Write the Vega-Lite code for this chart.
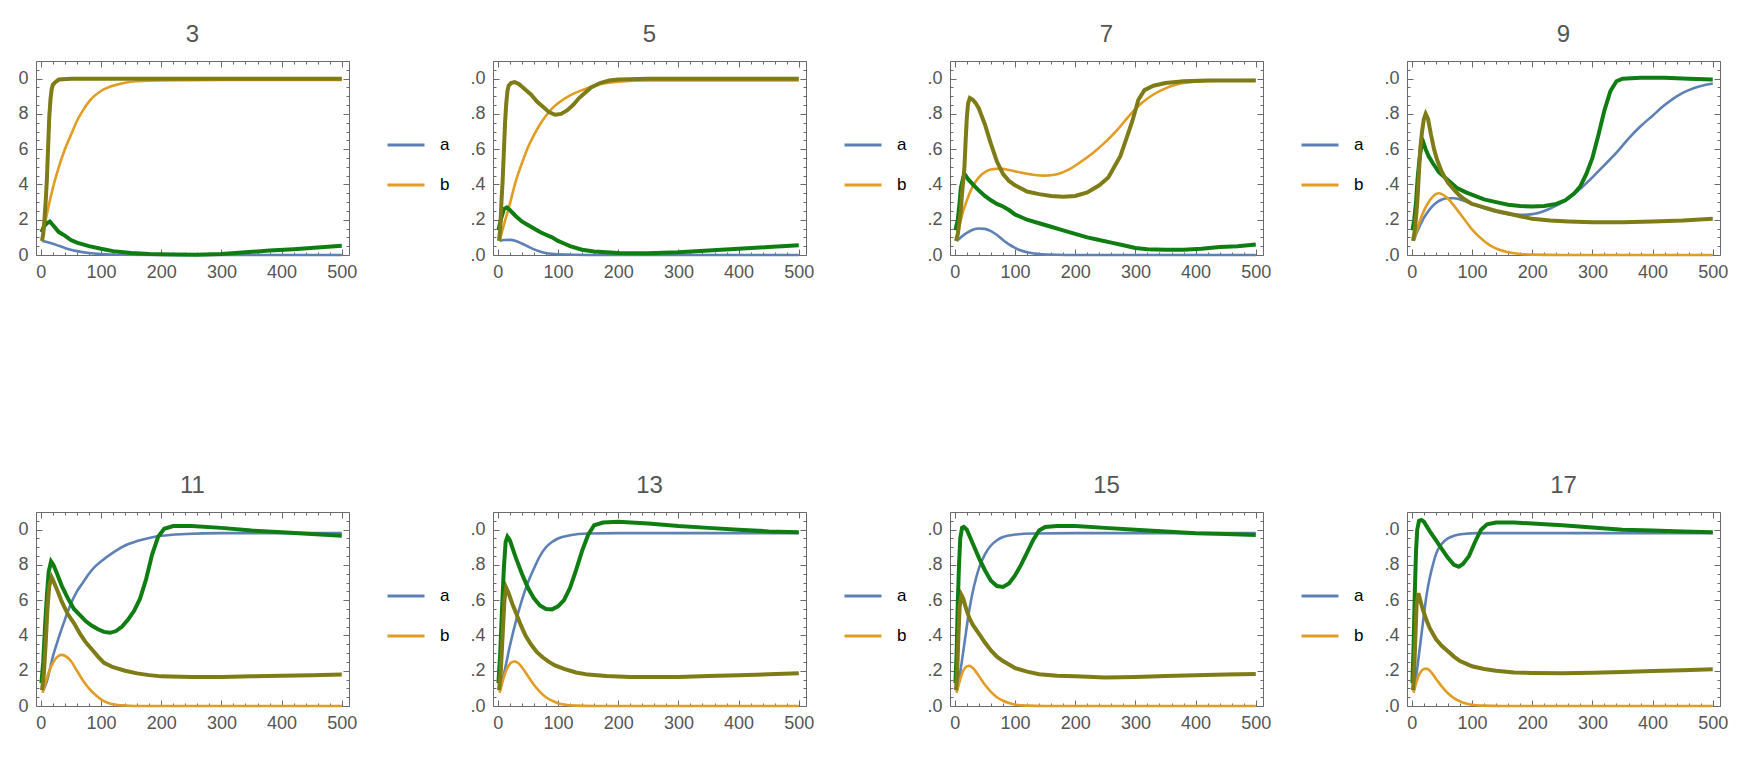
{
  "$schema": "https://vega.github.io/schema/vega-lite/v6.json",
  "background": "white",
  "padding": {"left": 17, "top": 22, "right": 5, "bottom": 5},
  "datasets": {
    "runs": [
      {"p":3,"s":"a","t":2,"v":0.08},{"p":3,"s":"a","t":10,"v":0.074},{"p":3,"s":"a","t":20,"v":0.064},{"p":3,"s":"a","t":30,"v":0.052},{"p":3,"s":"a","t":40,"v":0.04},{"p":3,"s":"a","t":50,"v":0.03},{"p":3,"s":"a","t":60,"v":0.022},{"p":3,"s":"a","t":80,"v":0.011},{"p":3,"s":"a","t":100,"v":0.005},{"p":3,"s":"a","t":130,"v":0.001},{"p":3,"s":"a","t":200,"v":0},{"p":3,"s":"a","t":350,"v":0},{"p":3,"s":"a","t":500,"v":0},
      {"p":3,"s":"b","t":2,"v":0.08},{"p":3,"s":"b","t":10,"v":0.23},{"p":3,"s":"b","t":20,"v":0.38},{"p":3,"s":"b","t":30,"v":0.5},{"p":3,"s":"b","t":40,"v":0.6},{"p":3,"s":"b","t":50,"v":0.68},{"p":3,"s":"b","t":60,"v":0.76},{"p":3,"s":"b","t":70,"v":0.82},{"p":3,"s":"b","t":80,"v":0.87},{"p":3,"s":"b","t":90,"v":0.905},{"p":3,"s":"b","t":100,"v":0.93},{"p":3,"s":"b","t":120,"v":0.96},{"p":3,"s":"b","t":140,"v":0.977},{"p":3,"s":"b","t":160,"v":0.985},{"p":3,"s":"b","t":200,"v":0.99},{"p":3,"s":"b","t":300,"v":0.992},{"p":3,"s":"b","t":500,"v":0.992},
      {"p":3,"s":"sa","t":1,"v":0.13},{"p":3,"s":"sa","t":5,"v":0.16},{"p":3,"s":"sa","t":10,"v":0.18},{"p":3,"s":"sa","t":15,"v":0.19},{"p":3,"s":"sa","t":20,"v":0.17},{"p":3,"s":"sa","t":30,"v":0.13},{"p":3,"s":"sa","t":40,"v":0.11},{"p":3,"s":"sa","t":50,"v":0.085},{"p":3,"s":"sa","t":60,"v":0.07},{"p":3,"s":"sa","t":80,"v":0.05},{"p":3,"s":"sa","t":100,"v":0.035},{"p":3,"s":"sa","t":120,"v":0.022},{"p":3,"s":"sa","t":150,"v":0.012},{"p":3,"s":"sa","t":180,"v":0.006},{"p":3,"s":"sa","t":220,"v":0.003},{"p":3,"s":"sa","t":260,"v":0.002},{"p":3,"s":"sa","t":300,"v":0.006},{"p":3,"s":"sa","t":340,"v":0.015},{"p":3,"s":"sa","t":380,"v":0.025},{"p":3,"s":"sa","t":420,"v":0.033},{"p":3,"s":"sa","t":460,"v":0.042},{"p":3,"s":"sa","t":500,"v":0.052},
      {"p":3,"s":"sb","t":2,"v":0.08},{"p":3,"s":"sb","t":4,"v":0.12},{"p":3,"s":"sb","t":6,"v":0.2},{"p":3,"s":"sb","t":8,"v":0.3},{"p":3,"s":"sb","t":10,"v":0.42},{"p":3,"s":"sb","t":12,"v":0.6},{"p":3,"s":"sb","t":14,"v":0.78},{"p":3,"s":"sb","t":16,"v":0.88},{"p":3,"s":"sb","t":18,"v":0.94},{"p":3,"s":"sb","t":20,"v":0.965},{"p":3,"s":"sb","t":24,"v":0.98},{"p":3,"s":"sb","t":30,"v":0.995},{"p":3,"s":"sb","t":50,"v":1.0},{"p":3,"s":"sb","t":150,"v":1.0},{"p":3,"s":"sb","t":300,"v":1.0},{"p":3,"s":"sb","t":500,"v":1.0},

      {"p":5,"s":"a","t":3,"v":0.08},{"p":5,"s":"a","t":10,"v":0.085},{"p":5,"s":"a","t":20,"v":0.086},{"p":5,"s":"a","t":30,"v":0.08},{"p":5,"s":"a","t":40,"v":0.065},{"p":5,"s":"a","t":50,"v":0.048},{"p":5,"s":"a","t":60,"v":0.032},{"p":5,"s":"a","t":70,"v":0.02},{"p":5,"s":"a","t":80,"v":0.011},{"p":5,"s":"a","t":100,"v":0.004},{"p":5,"s":"a","t":150,"v":0},{"p":5,"s":"a","t":500,"v":0},
      {"p":5,"s":"b","t":3,"v":0.08},{"p":5,"s":"b","t":10,"v":0.17},{"p":5,"s":"b","t":20,"v":0.29},{"p":5,"s":"b","t":30,"v":0.42},{"p":5,"s":"b","t":40,"v":0.52},{"p":5,"s":"b","t":50,"v":0.61},{"p":5,"s":"b","t":60,"v":0.68},{"p":5,"s":"b","t":70,"v":0.74},{"p":5,"s":"b","t":80,"v":0.79},{"p":5,"s":"b","t":90,"v":0.83},{"p":5,"s":"b","t":100,"v":0.86},{"p":5,"s":"b","t":120,"v":0.905},{"p":5,"s":"b","t":140,"v":0.935},{"p":5,"s":"b","t":160,"v":0.96},{"p":5,"s":"b","t":180,"v":0.975},{"p":5,"s":"b","t":200,"v":0.983},{"p":5,"s":"b","t":250,"v":0.99},{"p":5,"s":"b","t":500,"v":0.99},
      {"p":5,"s":"sa","t":1,"v":0.14},{"p":5,"s":"sa","t":5,"v":0.2},{"p":5,"s":"sa","t":10,"v":0.26},{"p":5,"s":"sa","t":15,"v":0.27},{"p":5,"s":"sa","t":20,"v":0.255},{"p":5,"s":"sa","t":30,"v":0.22},{"p":5,"s":"sa","t":40,"v":0.19},{"p":5,"s":"sa","t":50,"v":0.17},{"p":5,"s":"sa","t":60,"v":0.15},{"p":5,"s":"sa","t":70,"v":0.13},{"p":5,"s":"sa","t":80,"v":0.115},{"p":5,"s":"sa","t":90,"v":0.1},{"p":5,"s":"sa","t":100,"v":0.08},{"p":5,"s":"sa","t":110,"v":0.065},{"p":5,"s":"sa","t":120,"v":0.05},{"p":5,"s":"sa","t":140,"v":0.03},{"p":5,"s":"sa","t":160,"v":0.02},{"p":5,"s":"sa","t":200,"v":0.012},{"p":5,"s":"sa","t":250,"v":0.01},{"p":5,"s":"sa","t":300,"v":0.015},{"p":5,"s":"sa","t":350,"v":0.025},{"p":5,"s":"sa","t":400,"v":0.035},{"p":5,"s":"sa","t":450,"v":0.045},{"p":5,"s":"sa","t":500,"v":0.055},
      {"p":5,"s":"sb","t":2,"v":0.08},{"p":5,"s":"sb","t":4,"v":0.15},{"p":5,"s":"sb","t":6,"v":0.3},{"p":5,"s":"sb","t":8,"v":0.42},{"p":5,"s":"sb","t":10,"v":0.58},{"p":5,"s":"sb","t":12,"v":0.75},{"p":5,"s":"sb","t":14,"v":0.86},{"p":5,"s":"sb","t":16,"v":0.93},{"p":5,"s":"sb","t":18,"v":0.96},{"p":5,"s":"sb","t":22,"v":0.975},{"p":5,"s":"sb","t":28,"v":0.98},{"p":5,"s":"sb","t":35,"v":0.97},{"p":5,"s":"sb","t":45,"v":0.94},{"p":5,"s":"sb","t":55,"v":0.91},{"p":5,"s":"sb","t":65,"v":0.87},{"p":5,"s":"sb","t":75,"v":0.84},{"p":5,"s":"sb","t":85,"v":0.81},{"p":5,"s":"sb","t":95,"v":0.795},{"p":5,"s":"sb","t":105,"v":0.8},{"p":5,"s":"sb","t":115,"v":0.82},{"p":5,"s":"sb","t":125,"v":0.85},{"p":5,"s":"sb","t":135,"v":0.89},{"p":5,"s":"sb","t":145,"v":0.92},{"p":5,"s":"sb","t":155,"v":0.95},{"p":5,"s":"sb","t":170,"v":0.975},{"p":5,"s":"sb","t":185,"v":0.99},{"p":5,"s":"sb","t":200,"v":0.995},{"p":5,"s":"sb","t":250,"v":1.0},{"p":5,"s":"sb","t":500,"v":1.0},

      {"p":7,"s":"a","t":3,"v":0.08},{"p":7,"s":"a","t":10,"v":0.1},{"p":7,"s":"a","t":20,"v":0.125},{"p":7,"s":"a","t":30,"v":0.143},{"p":7,"s":"a","t":40,"v":0.15},{"p":7,"s":"a","t":50,"v":0.148},{"p":7,"s":"a","t":60,"v":0.135},{"p":7,"s":"a","t":70,"v":0.113},{"p":7,"s":"a","t":80,"v":0.085},{"p":7,"s":"a","t":90,"v":0.06},{"p":7,"s":"a","t":100,"v":0.04},{"p":7,"s":"a","t":110,"v":0.025},{"p":7,"s":"a","t":120,"v":0.015},{"p":7,"s":"a","t":140,"v":0.005},{"p":7,"s":"a","t":170,"v":0.001},{"p":7,"s":"a","t":200,"v":0},{"p":7,"s":"a","t":500,"v":0},
      {"p":7,"s":"b","t":3,"v":0.08},{"p":7,"s":"b","t":10,"v":0.2},{"p":7,"s":"b","t":20,"v":0.31},{"p":7,"s":"b","t":30,"v":0.39},{"p":7,"s":"b","t":40,"v":0.44},{"p":7,"s":"b","t":50,"v":0.47},{"p":7,"s":"b","t":60,"v":0.485},{"p":7,"s":"b","t":75,"v":0.49},{"p":7,"s":"b","t":90,"v":0.482},{"p":7,"s":"b","t":110,"v":0.467},{"p":7,"s":"b","t":130,"v":0.455},{"p":7,"s":"b","t":150,"v":0.45},{"p":7,"s":"b","t":170,"v":0.458},{"p":7,"s":"b","t":190,"v":0.485},{"p":7,"s":"b","t":210,"v":0.53},{"p":7,"s":"b","t":230,"v":0.58},{"p":7,"s":"b","t":250,"v":0.64},{"p":7,"s":"b","t":270,"v":0.71},{"p":7,"s":"b","t":290,"v":0.79},{"p":7,"s":"b","t":310,"v":0.86},{"p":7,"s":"b","t":330,"v":0.91},{"p":7,"s":"b","t":350,"v":0.945},{"p":7,"s":"b","t":370,"v":0.968},{"p":7,"s":"b","t":400,"v":0.982},{"p":7,"s":"b","t":450,"v":0.99},{"p":7,"s":"b","t":500,"v":0.992},
      {"p":7,"s":"sa","t":1,"v":0.14},{"p":7,"s":"sa","t":5,"v":0.2},{"p":7,"s":"sa","t":8,"v":0.3},{"p":7,"s":"sa","t":10,"v":0.38},{"p":7,"s":"sa","t":14,"v":0.44},{"p":7,"s":"sa","t":18,"v":0.45},{"p":7,"s":"sa","t":22,"v":0.43},{"p":7,"s":"sa","t":30,"v":0.4},{"p":7,"s":"sa","t":40,"v":0.365},{"p":7,"s":"sa","t":50,"v":0.335},{"p":7,"s":"sa","t":60,"v":0.31},{"p":7,"s":"sa","t":70,"v":0.29},{"p":7,"s":"sa","t":80,"v":0.275},{"p":7,"s":"sa","t":90,"v":0.255},{"p":7,"s":"sa","t":100,"v":0.23},{"p":7,"s":"sa","t":120,"v":0.2},{"p":7,"s":"sa","t":140,"v":0.18},{"p":7,"s":"sa","t":160,"v":0.16},{"p":7,"s":"sa","t":180,"v":0.14},{"p":7,"s":"sa","t":200,"v":0.12},{"p":7,"s":"sa","t":220,"v":0.1},{"p":7,"s":"sa","t":240,"v":0.085},{"p":7,"s":"sa","t":260,"v":0.07},{"p":7,"s":"sa","t":280,"v":0.055},{"p":7,"s":"sa","t":300,"v":0.04},{"p":7,"s":"sa","t":320,"v":0.032},{"p":7,"s":"sa","t":350,"v":0.03},{"p":7,"s":"sa","t":380,"v":0.03},{"p":7,"s":"sa","t":410,"v":0.035},{"p":7,"s":"sa","t":440,"v":0.045},{"p":7,"s":"sa","t":470,"v":0.05},{"p":7,"s":"sa","t":500,"v":0.06},
      {"p":7,"s":"sb","t":2,"v":0.08},{"p":7,"s":"sb","t":5,"v":0.12},{"p":7,"s":"sb","t":8,"v":0.2},{"p":7,"s":"sb","t":10,"v":0.25},{"p":7,"s":"sb","t":12,"v":0.35},{"p":7,"s":"sb","t":14,"v":0.42},{"p":7,"s":"sb","t":16,"v":0.5},{"p":7,"s":"sb","t":18,"v":0.65},{"p":7,"s":"sb","t":20,"v":0.78},{"p":7,"s":"sb","t":22,"v":0.86},{"p":7,"s":"sb","t":25,"v":0.89},{"p":7,"s":"sb","t":30,"v":0.88},{"p":7,"s":"sb","t":35,"v":0.86},{"p":7,"s":"sb","t":40,"v":0.83},{"p":7,"s":"sb","t":50,"v":0.74},{"p":7,"s":"sb","t":60,"v":0.63},{"p":7,"s":"sb","t":70,"v":0.53},{"p":7,"s":"sb","t":80,"v":0.46},{"p":7,"s":"sb","t":90,"v":0.42},{"p":7,"s":"sb","t":100,"v":0.395},{"p":7,"s":"sb","t":120,"v":0.36},{"p":7,"s":"sb","t":140,"v":0.345},{"p":7,"s":"sb","t":160,"v":0.335},{"p":7,"s":"sb","t":180,"v":0.33},{"p":7,"s":"sb","t":200,"v":0.335},{"p":7,"s":"sb","t":220,"v":0.355},{"p":7,"s":"sb","t":240,"v":0.395},{"p":7,"s":"sb","t":255,"v":0.44},{"p":7,"s":"sb","t":265,"v":0.5},{"p":7,"s":"sb","t":275,"v":0.56},{"p":7,"s":"sb","t":285,"v":0.66},{"p":7,"s":"sb","t":295,"v":0.76},{"p":7,"s":"sb","t":305,"v":0.88},{"p":7,"s":"sb","t":315,"v":0.935},{"p":7,"s":"sb","t":330,"v":0.96},{"p":7,"s":"sb","t":350,"v":0.975},{"p":7,"s":"sb","t":380,"v":0.985},{"p":7,"s":"sb","t":420,"v":0.99},{"p":7,"s":"sb","t":500,"v":0.99},

      {"p":9,"s":"a","t":3,"v":0.08},{"p":9,"s":"a","t":10,"v":0.14},{"p":9,"s":"a","t":20,"v":0.21},{"p":9,"s":"a","t":30,"v":0.26},{"p":9,"s":"a","t":40,"v":0.295},{"p":9,"s":"a","t":50,"v":0.315},{"p":9,"s":"a","t":60,"v":0.322},{"p":9,"s":"a","t":70,"v":0.322},{"p":9,"s":"a","t":80,"v":0.315},{"p":9,"s":"a","t":100,"v":0.29},{"p":9,"s":"a","t":120,"v":0.265},{"p":9,"s":"a","t":140,"v":0.245},{"p":9,"s":"a","t":160,"v":0.232},{"p":9,"s":"a","t":180,"v":0.228},{"p":9,"s":"a","t":200,"v":0.232},{"p":9,"s":"a","t":220,"v":0.25},{"p":9,"s":"a","t":240,"v":0.28},{"p":9,"s":"a","t":260,"v":0.32},{"p":9,"s":"a","t":280,"v":0.375},{"p":9,"s":"a","t":300,"v":0.44},{"p":9,"s":"a","t":320,"v":0.51},{"p":9,"s":"a","t":340,"v":0.58},{"p":9,"s":"a","t":360,"v":0.66},{"p":9,"s":"a","t":380,"v":0.73},{"p":9,"s":"a","t":400,"v":0.79},{"p":9,"s":"a","t":420,"v":0.85},{"p":9,"s":"a","t":440,"v":0.9},{"p":9,"s":"a","t":460,"v":0.935},{"p":9,"s":"a","t":480,"v":0.958},{"p":9,"s":"a","t":500,"v":0.972},
      {"p":9,"s":"b","t":3,"v":0.08},{"p":9,"s":"b","t":10,"v":0.16},{"p":9,"s":"b","t":20,"v":0.25},{"p":9,"s":"b","t":30,"v":0.31},{"p":9,"s":"b","t":40,"v":0.345},{"p":9,"s":"b","t":45,"v":0.35},{"p":9,"s":"b","t":50,"v":0.345},{"p":9,"s":"b","t":60,"v":0.32},{"p":9,"s":"b","t":70,"v":0.28},{"p":9,"s":"b","t":80,"v":0.235},{"p":9,"s":"b","t":90,"v":0.19},{"p":9,"s":"b","t":100,"v":0.145},{"p":9,"s":"b","t":110,"v":0.11},{"p":9,"s":"b","t":120,"v":0.08},{"p":9,"s":"b","t":130,"v":0.055},{"p":9,"s":"b","t":140,"v":0.037},{"p":9,"s":"b","t":160,"v":0.015},{"p":9,"s":"b","t":180,"v":0.006},{"p":9,"s":"b","t":200,"v":0.002},{"p":9,"s":"b","t":250,"v":0},{"p":9,"s":"b","t":500,"v":0},
      {"p":9,"s":"sa","t":1,"v":0.14},{"p":9,"s":"sa","t":4,"v":0.2},{"p":9,"s":"sa","t":7,"v":0.3},{"p":9,"s":"sa","t":10,"v":0.45},{"p":9,"s":"sa","t":13,"v":0.55},{"p":9,"s":"sa","t":16,"v":0.62},{"p":9,"s":"sa","t":19,"v":0.64},{"p":9,"s":"sa","t":23,"v":0.6},{"p":9,"s":"sa","t":28,"v":0.56},{"p":9,"s":"sa","t":35,"v":0.52},{"p":9,"s":"sa","t":45,"v":0.47},{"p":9,"s":"sa","t":55,"v":0.44},{"p":9,"s":"sa","t":65,"v":0.41},{"p":9,"s":"sa","t":75,"v":0.38},{"p":9,"s":"sa","t":90,"v":0.355},{"p":9,"s":"sa","t":105,"v":0.335},{"p":9,"s":"sa","t":120,"v":0.315},{"p":9,"s":"sa","t":140,"v":0.3},{"p":9,"s":"sa","t":160,"v":0.285},{"p":9,"s":"sa","t":180,"v":0.278},{"p":9,"s":"sa","t":200,"v":0.275},{"p":9,"s":"sa","t":220,"v":0.278},{"p":9,"s":"sa","t":240,"v":0.29},{"p":9,"s":"sa","t":255,"v":0.31},{"p":9,"s":"sa","t":270,"v":0.35},{"p":9,"s":"sa","t":280,"v":0.39},{"p":9,"s":"sa","t":290,"v":0.46},{"p":9,"s":"sa","t":300,"v":0.55},{"p":9,"s":"sa","t":310,"v":0.68},{"p":9,"s":"sa","t":320,"v":0.82},{"p":9,"s":"sa","t":330,"v":0.93},{"p":9,"s":"sa","t":340,"v":0.985},{"p":9,"s":"sa","t":350,"v":1.0},{"p":9,"s":"sa","t":380,"v":1.005},{"p":9,"s":"sa","t":420,"v":1.005},{"p":9,"s":"sa","t":460,"v":1.0},{"p":9,"s":"sa","t":500,"v":0.995},
      {"p":9,"s":"sb","t":2,"v":0.08},{"p":9,"s":"sb","t":5,"v":0.14},{"p":9,"s":"sb","t":8,"v":0.25},{"p":9,"s":"sb","t":10,"v":0.35},{"p":9,"s":"sb","t":12,"v":0.48},{"p":9,"s":"sb","t":14,"v":0.6},{"p":9,"s":"sb","t":17,"v":0.7},{"p":9,"s":"sb","t":20,"v":0.77},{"p":9,"s":"sb","t":23,"v":0.8},{"p":9,"s":"sb","t":27,"v":0.77},{"p":9,"s":"sb","t":32,"v":0.68},{"p":9,"s":"sb","t":37,"v":0.6},{"p":9,"s":"sb","t":42,"v":0.54},{"p":9,"s":"sb","t":50,"v":0.47},{"p":9,"s":"sb","t":60,"v":0.41},{"p":9,"s":"sb","t":70,"v":0.37},{"p":9,"s":"sb","t":80,"v":0.335},{"p":9,"s":"sb","t":90,"v":0.31},{"p":9,"s":"sb","t":100,"v":0.29},{"p":9,"s":"sb","t":120,"v":0.27},{"p":9,"s":"sb","t":140,"v":0.25},{"p":9,"s":"sb","t":160,"v":0.235},{"p":9,"s":"sb","t":180,"v":0.22},{"p":9,"s":"sb","t":200,"v":0.205},{"p":9,"s":"sb","t":230,"v":0.195},{"p":9,"s":"sb","t":260,"v":0.19},{"p":9,"s":"sb","t":300,"v":0.185},{"p":9,"s":"sb","t":350,"v":0.185},{"p":9,"s":"sb","t":400,"v":0.19},{"p":9,"s":"sb","t":450,"v":0.195},{"p":9,"s":"sb","t":500,"v":0.205},

      {"p":11,"s":"a","t":3,"v":0.08},{"p":11,"s":"a","t":10,"v":0.14},{"p":11,"s":"a","t":20,"v":0.28},{"p":11,"s":"a","t":30,"v":0.39},{"p":11,"s":"a","t":40,"v":0.49},{"p":11,"s":"a","t":50,"v":0.58},{"p":11,"s":"a","t":60,"v":0.65},{"p":11,"s":"a","t":70,"v":0.7},{"p":11,"s":"a","t":80,"v":0.75},{"p":11,"s":"a","t":90,"v":0.79},{"p":11,"s":"a","t":100,"v":0.82},{"p":11,"s":"a","t":120,"v":0.87},{"p":11,"s":"a","t":140,"v":0.91},{"p":11,"s":"a","t":160,"v":0.935},{"p":11,"s":"a","t":180,"v":0.953},{"p":11,"s":"a","t":200,"v":0.965},{"p":11,"s":"a","t":240,"v":0.975},{"p":11,"s":"a","t":300,"v":0.98},{"p":11,"s":"a","t":500,"v":0.98},
      {"p":11,"s":"b","t":3,"v":0.075},{"p":11,"s":"b","t":10,"v":0.16},{"p":11,"s":"b","t":20,"v":0.245},{"p":11,"s":"b","t":30,"v":0.285},{"p":11,"s":"b","t":35,"v":0.29},{"p":11,"s":"b","t":40,"v":0.285},{"p":11,"s":"b","t":50,"v":0.255},{"p":11,"s":"b","t":60,"v":0.2},{"p":11,"s":"b","t":70,"v":0.145},{"p":11,"s":"b","t":80,"v":0.1},{"p":11,"s":"b","t":90,"v":0.065},{"p":11,"s":"b","t":100,"v":0.038},{"p":11,"s":"b","t":110,"v":0.02},{"p":11,"s":"b","t":120,"v":0.01},{"p":11,"s":"b","t":140,"v":0.003},{"p":11,"s":"b","t":170,"v":0},{"p":11,"s":"b","t":500,"v":0},
      {"p":11,"s":"sa","t":1,"v":0.13},{"p":11,"s":"sa","t":4,"v":0.25},{"p":11,"s":"sa","t":7,"v":0.45},{"p":11,"s":"sa","t":10,"v":0.62},{"p":11,"s":"sa","t":13,"v":0.76},{"p":11,"s":"sa","t":17,"v":0.82},{"p":11,"s":"sa","t":21,"v":0.8},{"p":11,"s":"sa","t":27,"v":0.75},{"p":11,"s":"sa","t":35,"v":0.68},{"p":11,"s":"sa","t":45,"v":0.61},{"p":11,"s":"sa","t":55,"v":0.55},{"p":11,"s":"sa","t":65,"v":0.515},{"p":11,"s":"sa","t":75,"v":0.48},{"p":11,"s":"sa","t":85,"v":0.455},{"p":11,"s":"sa","t":95,"v":0.435},{"p":11,"s":"sa","t":105,"v":0.42},{"p":11,"s":"sa","t":115,"v":0.415},{"p":11,"s":"sa","t":125,"v":0.425},{"p":11,"s":"sa","t":135,"v":0.45},{"p":11,"s":"sa","t":145,"v":0.49},{"p":11,"s":"sa","t":155,"v":0.54},{"p":11,"s":"sa","t":165,"v":0.61},{"p":11,"s":"sa","t":175,"v":0.72},{"p":11,"s":"sa","t":185,"v":0.86},{"p":11,"s":"sa","t":195,"v":0.96},{"p":11,"s":"sa","t":205,"v":1.005},{"p":11,"s":"sa","t":220,"v":1.02},{"p":11,"s":"sa","t":250,"v":1.02},{"p":11,"s":"sa","t":300,"v":1.01},{"p":11,"s":"sa","t":350,"v":0.995},{"p":11,"s":"sa","t":400,"v":0.985},{"p":11,"s":"sa","t":450,"v":0.975},{"p":11,"s":"sa","t":500,"v":0.965},
      {"p":11,"s":"sb","t":2,"v":0.09},{"p":11,"s":"sb","t":5,"v":0.18},{"p":11,"s":"sb","t":8,"v":0.35},{"p":11,"s":"sb","t":11,"v":0.55},{"p":11,"s":"sb","t":14,"v":0.68},{"p":11,"s":"sb","t":18,"v":0.73},{"p":11,"s":"sb","t":22,"v":0.7},{"p":11,"s":"sb","t":28,"v":0.65},{"p":11,"s":"sb","t":35,"v":0.59},{"p":11,"s":"sb","t":45,"v":0.52},{"p":11,"s":"sb","t":55,"v":0.47},{"p":11,"s":"sb","t":65,"v":0.41},{"p":11,"s":"sb","t":75,"v":0.36},{"p":11,"s":"sb","t":85,"v":0.32},{"p":11,"s":"sb","t":95,"v":0.28},{"p":11,"s":"sb","t":105,"v":0.245},{"p":11,"s":"sb","t":120,"v":0.22},{"p":11,"s":"sb","t":140,"v":0.2},{"p":11,"s":"sb","t":160,"v":0.185},{"p":11,"s":"sb","t":180,"v":0.175},{"p":11,"s":"sb","t":200,"v":0.168},{"p":11,"s":"sb","t":250,"v":0.165},{"p":11,"s":"sb","t":300,"v":0.165},{"p":11,"s":"sb","t":350,"v":0.168},{"p":11,"s":"sb","t":400,"v":0.172},{"p":11,"s":"sb","t":450,"v":0.175},{"p":11,"s":"sb","t":500,"v":0.178},

      {"p":13,"s":"a","t":3,"v":0.08},{"p":13,"s":"a","t":10,"v":0.18},{"p":13,"s":"a","t":20,"v":0.34},{"p":13,"s":"a","t":30,"v":0.48},{"p":13,"s":"a","t":40,"v":0.6},{"p":13,"s":"a","t":50,"v":0.7},{"p":13,"s":"a","t":60,"v":0.78},{"p":13,"s":"a","t":70,"v":0.85},{"p":13,"s":"a","t":80,"v":0.9},{"p":13,"s":"a","t":90,"v":0.93},{"p":13,"s":"a","t":100,"v":0.95},{"p":13,"s":"a","t":120,"v":0.968},{"p":13,"s":"a","t":150,"v":0.978},{"p":13,"s":"a","t":200,"v":0.98},{"p":13,"s":"a","t":500,"v":0.98},
      {"p":13,"s":"b","t":3,"v":0.075},{"p":13,"s":"b","t":8,"v":0.14},{"p":13,"s":"b","t":15,"v":0.21},{"p":13,"s":"b","t":22,"v":0.245},{"p":13,"s":"b","t":27,"v":0.252},{"p":13,"s":"b","t":33,"v":0.245},{"p":13,"s":"b","t":40,"v":0.22},{"p":13,"s":"b","t":50,"v":0.17},{"p":13,"s":"b","t":60,"v":0.12},{"p":13,"s":"b","t":70,"v":0.08},{"p":13,"s":"b","t":80,"v":0.05},{"p":13,"s":"b","t":90,"v":0.03},{"p":13,"s":"b","t":100,"v":0.016},{"p":13,"s":"b","t":110,"v":0.008},{"p":13,"s":"b","t":130,"v":0.002},{"p":13,"s":"b","t":160,"v":0},{"p":13,"s":"b","t":500,"v":0},
      {"p":13,"s":"sa","t":1,"v":0.13},{"p":13,"s":"sa","t":4,"v":0.3},{"p":13,"s":"sa","t":7,"v":0.55},{"p":13,"s":"sa","t":10,"v":0.78},{"p":13,"s":"sa","t":13,"v":0.93},{"p":13,"s":"sa","t":16,"v":0.96},{"p":13,"s":"sa","t":20,"v":0.94},{"p":13,"s":"sa","t":25,"v":0.89},{"p":13,"s":"sa","t":30,"v":0.84},{"p":13,"s":"sa","t":40,"v":0.75},{"p":13,"s":"sa","t":50,"v":0.67},{"p":13,"s":"sa","t":60,"v":0.61},{"p":13,"s":"sa","t":70,"v":0.57},{"p":13,"s":"sa","t":80,"v":0.55},{"p":13,"s":"sa","t":90,"v":0.548},{"p":13,"s":"sa","t":100,"v":0.565},{"p":13,"s":"sa","t":110,"v":0.6},{"p":13,"s":"sa","t":120,"v":0.67},{"p":13,"s":"sa","t":130,"v":0.77},{"p":13,"s":"sa","t":140,"v":0.88},{"p":13,"s":"sa","t":150,"v":0.97},{"p":13,"s":"sa","t":160,"v":1.025},{"p":13,"s":"sa","t":175,"v":1.04},{"p":13,"s":"sa","t":200,"v":1.045},{"p":13,"s":"sa","t":250,"v":1.035},{"p":13,"s":"sa","t":300,"v":1.02},{"p":13,"s":"sa","t":350,"v":1.01},{"p":13,"s":"sa","t":400,"v":1.0},{"p":13,"s":"sa","t":450,"v":0.99},{"p":13,"s":"sa","t":500,"v":0.985},
      {"p":13,"s":"sb","t":2,"v":0.09},{"p":13,"s":"sb","t":5,"v":0.2},{"p":13,"s":"sb","t":8,"v":0.4},{"p":13,"s":"sb","t":11,"v":0.6},{"p":13,"s":"sb","t":14,"v":0.67},{"p":13,"s":"sb","t":18,"v":0.64},{"p":13,"s":"sb","t":24,"v":0.58},{"p":13,"s":"sb","t":30,"v":0.53},{"p":13,"s":"sb","t":38,"v":0.46},{"p":13,"s":"sb","t":46,"v":0.4},{"p":13,"s":"sb","t":55,"v":0.35},{"p":13,"s":"sb","t":65,"v":0.305},{"p":13,"s":"sb","t":75,"v":0.275},{"p":13,"s":"sb","t":85,"v":0.25},{"p":13,"s":"sb","t":95,"v":0.23},{"p":13,"s":"sb","t":110,"v":0.21},{"p":13,"s":"sb","t":130,"v":0.19},{"p":13,"s":"sb","t":150,"v":0.178},{"p":13,"s":"sb","t":180,"v":0.17},{"p":13,"s":"sb","t":220,"v":0.165},{"p":13,"s":"sb","t":260,"v":0.165},{"p":13,"s":"sb","t":300,"v":0.165},{"p":13,"s":"sb","t":350,"v":0.17},{"p":13,"s":"sb","t":400,"v":0.175},{"p":13,"s":"sb","t":450,"v":0.18},{"p":13,"s":"sb","t":500,"v":0.185},

      {"p":15,"s":"a","t":3,"v":0.08},{"p":15,"s":"a","t":7,"v":0.15},{"p":15,"s":"a","t":12,"v":0.26},{"p":15,"s":"a","t":17,"v":0.38},{"p":15,"s":"a","t":22,"v":0.5},{"p":15,"s":"a","t":27,"v":0.6},{"p":15,"s":"a","t":32,"v":0.68},{"p":15,"s":"a","t":40,"v":0.78},{"p":15,"s":"a","t":50,"v":0.86},{"p":15,"s":"a","t":60,"v":0.91},{"p":15,"s":"a","t":70,"v":0.94},{"p":15,"s":"a","t":80,"v":0.958},{"p":15,"s":"a","t":100,"v":0.972},{"p":15,"s":"a","t":130,"v":0.978},{"p":15,"s":"a","t":200,"v":0.98},{"p":15,"s":"a","t":500,"v":0.98},
      {"p":15,"s":"b","t":3,"v":0.075},{"p":15,"s":"b","t":8,"v":0.14},{"p":15,"s":"b","t":14,"v":0.2},{"p":15,"s":"b","t":20,"v":0.225},{"p":15,"s":"b","t":24,"v":0.228},{"p":15,"s":"b","t":30,"v":0.215},{"p":15,"s":"b","t":40,"v":0.17},{"p":15,"s":"b","t":50,"v":0.12},{"p":15,"s":"b","t":60,"v":0.08},{"p":15,"s":"b","t":70,"v":0.05},{"p":15,"s":"b","t":80,"v":0.03},{"p":15,"s":"b","t":90,"v":0.017},{"p":15,"s":"b","t":100,"v":0.008},{"p":15,"s":"b","t":120,"v":0.002},{"p":15,"s":"b","t":150,"v":0},{"p":15,"s":"b","t":500,"v":0},
      {"p":15,"s":"sa","t":1,"v":0.13},{"p":15,"s":"sa","t":3,"v":0.3},{"p":15,"s":"sa","t":5,"v":0.6},{"p":15,"s":"sa","t":7,"v":0.8},{"p":15,"s":"sa","t":9,"v":0.95},{"p":15,"s":"sa","t":12,"v":1.01},{"p":15,"s":"sa","t":15,"v":1.015},{"p":15,"s":"sa","t":20,"v":1.0},{"p":15,"s":"sa","t":25,"v":0.96},{"p":15,"s":"sa","t":30,"v":0.92},{"p":15,"s":"sa","t":40,"v":0.84},{"p":15,"s":"sa","t":50,"v":0.77},{"p":15,"s":"sa","t":60,"v":0.71},{"p":15,"s":"sa","t":70,"v":0.68},{"p":15,"s":"sa","t":80,"v":0.675},{"p":15,"s":"sa","t":90,"v":0.695},{"p":15,"s":"sa","t":100,"v":0.74},{"p":15,"s":"sa","t":110,"v":0.8},{"p":15,"s":"sa","t":120,"v":0.87},{"p":15,"s":"sa","t":130,"v":0.94},{"p":15,"s":"sa","t":140,"v":0.995},{"p":15,"s":"sa","t":150,"v":1.015},{"p":15,"s":"sa","t":170,"v":1.02},{"p":15,"s":"sa","t":200,"v":1.02},{"p":15,"s":"sa","t":250,"v":1.01},{"p":15,"s":"sa","t":300,"v":1.0},{"p":15,"s":"sa","t":350,"v":0.99},{"p":15,"s":"sa","t":400,"v":0.98},{"p":15,"s":"sa","t":450,"v":0.975},{"p":15,"s":"sa","t":500,"v":0.97},
      {"p":15,"s":"sb","t":2,"v":0.09},{"p":15,"s":"sb","t":4,"v":0.2},{"p":15,"s":"sb","t":6,"v":0.4},{"p":15,"s":"sb","t":8,"v":0.56},{"p":15,"s":"sb","t":11,"v":0.63},{"p":15,"s":"sb","t":14,"v":0.61},{"p":15,"s":"sb","t":18,"v":0.56},{"p":15,"s":"sb","t":24,"v":0.5},{"p":15,"s":"sb","t":30,"v":0.46},{"p":15,"s":"sb","t":40,"v":0.41},{"p":15,"s":"sb","t":50,"v":0.36},{"p":15,"s":"sb","t":60,"v":0.315},{"p":15,"s":"sb","t":70,"v":0.28},{"p":15,"s":"sb","t":80,"v":0.255},{"p":15,"s":"sb","t":90,"v":0.235},{"p":15,"s":"sb","t":100,"v":0.215},{"p":15,"s":"sb","t":120,"v":0.195},{"p":15,"s":"sb","t":140,"v":0.18},{"p":15,"s":"sb","t":170,"v":0.172},{"p":15,"s":"sb","t":200,"v":0.168},{"p":15,"s":"sb","t":250,"v":0.162},{"p":15,"s":"sb","t":300,"v":0.165},{"p":15,"s":"sb","t":350,"v":0.17},{"p":15,"s":"sb","t":400,"v":0.175},{"p":15,"s":"sb","t":450,"v":0.178},{"p":15,"s":"sb","t":500,"v":0.182},

      {"p":17,"s":"a","t":3,"v":0.08},{"p":17,"s":"a","t":6,"v":0.14},{"p":17,"s":"a","t":10,"v":0.24},{"p":17,"s":"a","t":14,"v":0.35},{"p":17,"s":"a","t":18,"v":0.46},{"p":17,"s":"a","t":22,"v":0.57},{"p":17,"s":"a","t":26,"v":0.66},{"p":17,"s":"a","t":30,"v":0.73},{"p":17,"s":"a","t":35,"v":0.8},{"p":17,"s":"a","t":40,"v":0.86},{"p":17,"s":"a","t":50,"v":0.92},{"p":17,"s":"a","t":60,"v":0.95},{"p":17,"s":"a","t":70,"v":0.965},{"p":17,"s":"a","t":85,"v":0.975},{"p":17,"s":"a","t":110,"v":0.98},{"p":17,"s":"a","t":500,"v":0.98},
      {"p":17,"s":"b","t":3,"v":0.075},{"p":17,"s":"b","t":8,"v":0.14},{"p":17,"s":"b","t":14,"v":0.19},{"p":17,"s":"b","t":20,"v":0.21},{"p":17,"s":"b","t":24,"v":0.212},{"p":17,"s":"b","t":30,"v":0.2},{"p":17,"s":"b","t":40,"v":0.155},{"p":17,"s":"b","t":50,"v":0.11},{"p":17,"s":"b","t":60,"v":0.072},{"p":17,"s":"b","t":70,"v":0.045},{"p":17,"s":"b","t":80,"v":0.026},{"p":17,"s":"b","t":90,"v":0.014},{"p":17,"s":"b","t":100,"v":0.007},{"p":17,"s":"b","t":120,"v":0.002},{"p":17,"s":"b","t":150,"v":0},{"p":17,"s":"b","t":500,"v":0},
      {"p":17,"s":"sa","t":1,"v":0.13},{"p":17,"s":"sa","t":3,"v":0.35},{"p":17,"s":"sa","t":5,"v":0.65},{"p":17,"s":"sa","t":7,"v":0.88},{"p":17,"s":"sa","t":9,"v":1.0},{"p":17,"s":"sa","t":12,"v":1.05},{"p":17,"s":"sa","t":16,"v":1.055},{"p":17,"s":"sa","t":20,"v":1.045},{"p":17,"s":"sa","t":30,"v":0.99},{"p":17,"s":"sa","t":40,"v":0.94},{"p":17,"s":"sa","t":50,"v":0.89},{"p":17,"s":"sa","t":60,"v":0.84},{"p":17,"s":"sa","t":70,"v":0.8},{"p":17,"s":"sa","t":78,"v":0.79},{"p":17,"s":"sa","t":85,"v":0.805},{"p":17,"s":"sa","t":95,"v":0.85},{"p":17,"s":"sa","t":105,"v":0.93},{"p":17,"s":"sa","t":115,"v":1.0},{"p":17,"s":"sa","t":125,"v":1.03},{"p":17,"s":"sa","t":140,"v":1.04},{"p":17,"s":"sa","t":170,"v":1.04},{"p":17,"s":"sa","t":200,"v":1.035},{"p":17,"s":"sa","t":250,"v":1.025},{"p":17,"s":"sa","t":300,"v":1.012},{"p":17,"s":"sa","t":350,"v":1.0},{"p":17,"s":"sa","t":400,"v":0.995},{"p":17,"s":"sa","t":450,"v":0.99},{"p":17,"s":"sa","t":500,"v":0.985},
      {"p":17,"s":"sb","t":2,"v":0.09},{"p":17,"s":"sb","t":4,"v":0.2},{"p":17,"s":"sb","t":6,"v":0.4},{"p":17,"s":"sb","t":8,"v":0.58},{"p":17,"s":"sb","t":11,"v":0.64},{"p":17,"s":"sb","t":14,"v":0.6},{"p":17,"s":"sb","t":18,"v":0.55},{"p":17,"s":"sb","t":24,"v":0.49},{"p":17,"s":"sb","t":30,"v":0.44},{"p":17,"s":"sb","t":40,"v":0.38},{"p":17,"s":"sb","t":50,"v":0.34},{"p":17,"s":"sb","t":60,"v":0.31},{"p":17,"s":"sb","t":70,"v":0.28},{"p":17,"s":"sb","t":80,"v":0.255},{"p":17,"s":"sb","t":90,"v":0.24},{"p":17,"s":"sb","t":100,"v":0.225},{"p":17,"s":"sb","t":120,"v":0.21},{"p":17,"s":"sb","t":140,"v":0.2},{"p":17,"s":"sb","t":170,"v":0.19},{"p":17,"s":"sb","t":200,"v":0.187},{"p":17,"s":"sb","t":250,"v":0.185},{"p":17,"s":"sb","t":300,"v":0.188},{"p":17,"s":"sb","t":350,"v":0.193},{"p":17,"s":"sb","t":400,"v":0.198},{"p":17,"s":"sb","t":450,"v":0.203},{"p":17,"s":"sb","t":500,"v":0.208}
    ]
  },
  "data": {"name": "runs"},
  "columns": 4,
  "spacing": {"row": 257, "column": 144},
  "bounds": "flush",
  "resolve": {"legend": {"color": "independent"}},
  "concat": [
    {
      "title": "3", "width": 313, "height": 194,
      "transform": [{"filter": "datum.p == 3"}],
      "resolve": {"axis": {"x": "independent", "y": "independent"}},
      "layer": [
        {"transform": [{"filter": "datum.s == 'a' || datum.s == 'b'"}],
         "mark": {"type": "line", "strokeWidth": 2.6, "interpolate": "monotone"},
         "encoding": {
           "x": {"field": "t", "type": "quantitative", "scale": {"domain": [-8, 512], "nice": false, "zero": false},
                 "axis": {"orient": "bottom", "title": null, "values": [0,20,40,60,80,100,120,140,160,180,200,220,240,260,280,300,320,340,360,380,400,420,440,460,480,500], "labelExpr": "datum.value % 100 == 0 ? datum.label : ''", "tickSize": {"condition": {"test": "datum.value % 100 == 0", "value": -6}, "value": -3}}},
           "y": {"field": "v", "type": "quantitative", "scale": {"domain": [0, 1.1], "nice": false},
                 "axis": {"orient": "left", "title": null, "values": [0,0.05,0.1,0.15,0.2,0.25,0.3,0.35,0.4,0.45,0.5,0.55,0.6,0.65,0.7,0.75,0.8,0.85,0.9,0.95,1,1.05,1.1], "labelExpr": "abs(datum.value*5 - round(datum.value*5)) < 0.01 ? slice(format(datum.value, '.1f'), -1) : ''", "tickSize": {"condition": {"test": "abs(datum.value*5 - round(datum.value*5)) < 0.01", "value": -6}, "value": -3}}},
           "color": {"field": "s", "type": "nominal", "scale": {"domain": ["a", "b"], "range": ["#5e81b5", "#e19c24"]}, "legend": {"orient": "none", "legendX": 350, "legendY": 64}}
         }},
        {"transform": [{"filter": "datum.s == 'sa'"}],
         "mark": {"type": "line", "strokeWidth": 4, "color": "#0f7d12"},
         "encoding": {
           "x": {"field": "t", "type": "quantitative", "axis": {"orient": "top", "title": null, "labels": false, "values": [0,20,40,60,80,100,120,140,160,180,200,220,240,260,280,300,320,340,360,380,400,420,440,460,480,500], "tickSize": {"condition": {"test": "datum.value % 100 == 0", "value": -6}, "value": -3}}},
           "y": {"field": "v", "type": "quantitative", "axis": {"orient": "right", "title": null, "labels": false, "values": [0,0.05,0.1,0.15,0.2,0.25,0.3,0.35,0.4,0.45,0.5,0.55,0.6,0.65,0.7,0.75,0.8,0.85,0.9,0.95,1,1.05,1.1], "tickSize": {"condition": {"test": "abs(datum.value*5 - round(datum.value*5)) < 0.01", "value": -6}, "value": -3}}}
         }},
        {"transform": [{"filter": "datum.s == 'sb'"}],
         "mark": {"type": "line", "strokeWidth": 4, "color": "#7e7c16"},
         "encoding": {
           "x": {"field": "t", "type": "quantitative", "axis": null},
           "y": {"field": "v", "type": "quantitative", "axis": null}
         }}
      ]
    },
    {
      "title": "5", "width": 313, "height": 194,
      "transform": [{"filter": "datum.p == 5"}],
      "resolve": {"axis": {"x": "independent", "y": "independent"}},
      "layer": [
        {"transform": [{"filter": "datum.s == 'a' || datum.s == 'b'"}],
         "mark": {"type": "line", "strokeWidth": 2.6, "interpolate": "monotone"},
         "encoding": {
           "x": {"field": "t", "type": "quantitative", "scale": {"domain": [-8, 512], "nice": false, "zero": false},
                 "axis": {"orient": "bottom", "title": null, "values": [0,20,40,60,80,100,120,140,160,180,200,220,240,260,280,300,320,340,360,380,400,420,440,460,480,500], "labelExpr": "datum.value % 100 == 0 ? datum.label : ''", "tickSize": {"condition": {"test": "datum.value % 100 == 0", "value": -6}, "value": -3}}},
           "y": {"field": "v", "type": "quantitative", "scale": {"domain": [0, 1.1], "nice": false},
                 "axis": {"orient": "left", "title": null, "values": [0,0.05,0.1,0.15,0.2,0.25,0.3,0.35,0.4,0.45,0.5,0.55,0.6,0.65,0.7,0.75,0.8,0.85,0.9,0.95,1,1.05,1.1], "labelExpr": "abs(datum.value*5 - round(datum.value*5)) < 0.01 ? slice(format(datum.value, '.1f'), -2) : ''", "tickSize": {"condition": {"test": "abs(datum.value*5 - round(datum.value*5)) < 0.01", "value": -6}, "value": -3}}},
           "color": {"field": "s", "type": "nominal", "scale": {"domain": ["a", "b"], "range": ["#5e81b5", "#e19c24"]}, "legend": {"orient": "none", "legendX": 350, "legendY": 64}}
         }},
        {"transform": [{"filter": "datum.s == 'sa'"}],
         "mark": {"type": "line", "strokeWidth": 4, "color": "#0f7d12"},
         "encoding": {
           "x": {"field": "t", "type": "quantitative", "axis": {"orient": "top", "title": null, "labels": false, "values": [0,20,40,60,80,100,120,140,160,180,200,220,240,260,280,300,320,340,360,380,400,420,440,460,480,500], "tickSize": {"condition": {"test": "datum.value % 100 == 0", "value": -6}, "value": -3}}},
           "y": {"field": "v", "type": "quantitative", "axis": {"orient": "right", "title": null, "labels": false, "values": [0,0.05,0.1,0.15,0.2,0.25,0.3,0.35,0.4,0.45,0.5,0.55,0.6,0.65,0.7,0.75,0.8,0.85,0.9,0.95,1,1.05,1.1], "tickSize": {"condition": {"test": "abs(datum.value*5 - round(datum.value*5)) < 0.01", "value": -6}, "value": -3}}}
         }},
        {"transform": [{"filter": "datum.s == 'sb'"}],
         "mark": {"type": "line", "strokeWidth": 4, "color": "#7e7c16"},
         "encoding": {
           "x": {"field": "t", "type": "quantitative", "axis": null},
           "y": {"field": "v", "type": "quantitative", "axis": null}
         }}
      ]
    },
    {
      "title": "7", "width": 313, "height": 194,
      "transform": [{"filter": "datum.p == 7"}],
      "resolve": {"axis": {"x": "independent", "y": "independent"}},
      "layer": [
        {"transform": [{"filter": "datum.s == 'a' || datum.s == 'b'"}],
         "mark": {"type": "line", "strokeWidth": 2.6, "interpolate": "monotone"},
         "encoding": {
           "x": {"field": "t", "type": "quantitative", "scale": {"domain": [-8, 512], "nice": false, "zero": false},
                 "axis": {"orient": "bottom", "title": null, "values": [0,20,40,60,80,100,120,140,160,180,200,220,240,260,280,300,320,340,360,380,400,420,440,460,480,500], "labelExpr": "datum.value % 100 == 0 ? datum.label : ''", "tickSize": {"condition": {"test": "datum.value % 100 == 0", "value": -6}, "value": -3}}},
           "y": {"field": "v", "type": "quantitative", "scale": {"domain": [0, 1.1], "nice": false},
                 "axis": {"orient": "left", "title": null, "values": [0,0.05,0.1,0.15,0.2,0.25,0.3,0.35,0.4,0.45,0.5,0.55,0.6,0.65,0.7,0.75,0.8,0.85,0.9,0.95,1,1.05,1.1], "labelExpr": "abs(datum.value*5 - round(datum.value*5)) < 0.01 ? slice(format(datum.value, '.1f'), -2) : ''", "tickSize": {"condition": {"test": "abs(datum.value*5 - round(datum.value*5)) < 0.01", "value": -6}, "value": -3}}},
           "color": {"field": "s", "type": "nominal", "scale": {"domain": ["a", "b"], "range": ["#5e81b5", "#e19c24"]}, "legend": {"orient": "none", "legendX": 350, "legendY": 64}}
         }},
        {"transform": [{"filter": "datum.s == 'sa'"}],
         "mark": {"type": "line", "strokeWidth": 4, "color": "#0f7d12"},
         "encoding": {
           "x": {"field": "t", "type": "quantitative", "axis": {"orient": "top", "title": null, "labels": false, "values": [0,20,40,60,80,100,120,140,160,180,200,220,240,260,280,300,320,340,360,380,400,420,440,460,480,500], "tickSize": {"condition": {"test": "datum.value % 100 == 0", "value": -6}, "value": -3}}},
           "y": {"field": "v", "type": "quantitative", "axis": {"orient": "right", "title": null, "labels": false, "values": [0,0.05,0.1,0.15,0.2,0.25,0.3,0.35,0.4,0.45,0.5,0.55,0.6,0.65,0.7,0.75,0.8,0.85,0.9,0.95,1,1.05,1.1], "tickSize": {"condition": {"test": "abs(datum.value*5 - round(datum.value*5)) < 0.01", "value": -6}, "value": -3}}}
         }},
        {"transform": [{"filter": "datum.s == 'sb'"}],
         "mark": {"type": "line", "strokeWidth": 4, "color": "#7e7c16"},
         "encoding": {
           "x": {"field": "t", "type": "quantitative", "axis": null},
           "y": {"field": "v", "type": "quantitative", "axis": null}
         }}
      ]
    },
    {
      "title": "9", "width": 313, "height": 194,
      "transform": [{"filter": "datum.p == 9"}],
      "resolve": {"axis": {"x": "independent", "y": "independent"}},
      "layer": [
        {"transform": [{"filter": "datum.s == 'a' || datum.s == 'b'"}],
         "mark": {"type": "line", "strokeWidth": 2.6, "interpolate": "monotone"},
         "encoding": {
           "x": {"field": "t", "type": "quantitative", "scale": {"domain": [-8, 512], "nice": false, "zero": false},
                 "axis": {"orient": "bottom", "title": null, "values": [0,20,40,60,80,100,120,140,160,180,200,220,240,260,280,300,320,340,360,380,400,420,440,460,480,500], "labelExpr": "datum.value % 100 == 0 ? datum.label : ''", "tickSize": {"condition": {"test": "datum.value % 100 == 0", "value": -6}, "value": -3}}},
           "y": {"field": "v", "type": "quantitative", "scale": {"domain": [0, 1.1], "nice": false},
                 "axis": {"orient": "left", "title": null, "values": [0,0.05,0.1,0.15,0.2,0.25,0.3,0.35,0.4,0.45,0.5,0.55,0.6,0.65,0.7,0.75,0.8,0.85,0.9,0.95,1,1.05,1.1], "labelExpr": "abs(datum.value*5 - round(datum.value*5)) < 0.01 ? slice(format(datum.value, '.1f'), -2) : ''", "tickSize": {"condition": {"test": "abs(datum.value*5 - round(datum.value*5)) < 0.01", "value": -6}, "value": -3}}},
           "color": {"field": "s", "type": "nominal", "scale": {"domain": ["a", "b"], "range": ["#5e81b5", "#e19c24"]}, "legend": null}
         }},
        {"transform": [{"filter": "datum.s == 'sa'"}],
         "mark": {"type": "line", "strokeWidth": 4, "color": "#0f7d12"},
         "encoding": {
           "x": {"field": "t", "type": "quantitative", "axis": {"orient": "top", "title": null, "labels": false, "values": [0,20,40,60,80,100,120,140,160,180,200,220,240,260,280,300,320,340,360,380,400,420,440,460,480,500], "tickSize": {"condition": {"test": "datum.value % 100 == 0", "value": -6}, "value": -3}}},
           "y": {"field": "v", "type": "quantitative", "axis": {"orient": "right", "title": null, "labels": false, "values": [0,0.05,0.1,0.15,0.2,0.25,0.3,0.35,0.4,0.45,0.5,0.55,0.6,0.65,0.7,0.75,0.8,0.85,0.9,0.95,1,1.05,1.1], "tickSize": {"condition": {"test": "abs(datum.value*5 - round(datum.value*5)) < 0.01", "value": -6}, "value": -3}}}
         }},
        {"transform": [{"filter": "datum.s == 'sb'"}],
         "mark": {"type": "line", "strokeWidth": 4, "color": "#7e7c16"},
         "encoding": {
           "x": {"field": "t", "type": "quantitative", "axis": null},
           "y": {"field": "v", "type": "quantitative", "axis": null}
         }}
      ]
    },
    {
      "title": "11", "width": 313, "height": 194,
      "transform": [{"filter": "datum.p == 11"}],
      "resolve": {"axis": {"x": "independent", "y": "independent"}},
      "layer": [
        {"transform": [{"filter": "datum.s == 'a' || datum.s == 'b'"}],
         "mark": {"type": "line", "strokeWidth": 2.6, "interpolate": "monotone"},
         "encoding": {
           "x": {"field": "t", "type": "quantitative", "scale": {"domain": [-8, 512], "nice": false, "zero": false},
                 "axis": {"orient": "bottom", "title": null, "values": [0,20,40,60,80,100,120,140,160,180,200,220,240,260,280,300,320,340,360,380,400,420,440,460,480,500], "labelExpr": "datum.value % 100 == 0 ? datum.label : ''", "tickSize": {"condition": {"test": "datum.value % 100 == 0", "value": -6}, "value": -3}}},
           "y": {"field": "v", "type": "quantitative", "scale": {"domain": [0, 1.1], "nice": false},
                 "axis": {"orient": "left", "title": null, "values": [0,0.05,0.1,0.15,0.2,0.25,0.3,0.35,0.4,0.45,0.5,0.55,0.6,0.65,0.7,0.75,0.8,0.85,0.9,0.95,1,1.05,1.1], "labelExpr": "abs(datum.value*5 - round(datum.value*5)) < 0.01 ? slice(format(datum.value, '.1f'), -1) : ''", "tickSize": {"condition": {"test": "abs(datum.value*5 - round(datum.value*5)) < 0.01", "value": -6}, "value": -3}}},
           "color": {"field": "s", "type": "nominal", "scale": {"domain": ["a", "b"], "range": ["#5e81b5", "#e19c24"]}, "legend": {"orient": "none", "legendX": 350, "legendY": 64}}
         }},
        {"transform": [{"filter": "datum.s == 'sa'"}],
         "mark": {"type": "line", "strokeWidth": 4, "color": "#0f7d12"},
         "encoding": {
           "x": {"field": "t", "type": "quantitative", "axis": {"orient": "top", "title": null, "labels": false, "values": [0,20,40,60,80,100,120,140,160,180,200,220,240,260,280,300,320,340,360,380,400,420,440,460,480,500], "tickSize": {"condition": {"test": "datum.value % 100 == 0", "value": -6}, "value": -3}}},
           "y": {"field": "v", "type": "quantitative", "axis": {"orient": "right", "title": null, "labels": false, "values": [0,0.05,0.1,0.15,0.2,0.25,0.3,0.35,0.4,0.45,0.5,0.55,0.6,0.65,0.7,0.75,0.8,0.85,0.9,0.95,1,1.05,1.1], "tickSize": {"condition": {"test": "abs(datum.value*5 - round(datum.value*5)) < 0.01", "value": -6}, "value": -3}}}
         }},
        {"transform": [{"filter": "datum.s == 'sb'"}],
         "mark": {"type": "line", "strokeWidth": 4, "color": "#7e7c16"},
         "encoding": {
           "x": {"field": "t", "type": "quantitative", "axis": null},
           "y": {"field": "v", "type": "quantitative", "axis": null}
         }}
      ]
    },
    {
      "title": "13", "width": 313, "height": 194,
      "transform": [{"filter": "datum.p == 13"}],
      "resolve": {"axis": {"x": "independent", "y": "independent"}},
      "layer": [
        {"transform": [{"filter": "datum.s == 'a' || datum.s == 'b'"}],
         "mark": {"type": "line", "strokeWidth": 2.6, "interpolate": "monotone"},
         "encoding": {
           "x": {"field": "t", "type": "quantitative", "scale": {"domain": [-8, 512], "nice": false, "zero": false},
                 "axis": {"orient": "bottom", "title": null, "values": [0,20,40,60,80,100,120,140,160,180,200,220,240,260,280,300,320,340,360,380,400,420,440,460,480,500], "labelExpr": "datum.value % 100 == 0 ? datum.label : ''", "tickSize": {"condition": {"test": "datum.value % 100 == 0", "value": -6}, "value": -3}}},
           "y": {"field": "v", "type": "quantitative", "scale": {"domain": [0, 1.1], "nice": false},
                 "axis": {"orient": "left", "title": null, "values": [0,0.05,0.1,0.15,0.2,0.25,0.3,0.35,0.4,0.45,0.5,0.55,0.6,0.65,0.7,0.75,0.8,0.85,0.9,0.95,1,1.05,1.1], "labelExpr": "abs(datum.value*5 - round(datum.value*5)) < 0.01 ? slice(format(datum.value, '.1f'), -2) : ''", "tickSize": {"condition": {"test": "abs(datum.value*5 - round(datum.value*5)) < 0.01", "value": -6}, "value": -3}}},
           "color": {"field": "s", "type": "nominal", "scale": {"domain": ["a", "b"], "range": ["#5e81b5", "#e19c24"]}, "legend": {"orient": "none", "legendX": 350, "legendY": 64}}
         }},
        {"transform": [{"filter": "datum.s == 'sa'"}],
         "mark": {"type": "line", "strokeWidth": 4, "color": "#0f7d12"},
         "encoding": {
           "x": {"field": "t", "type": "quantitative", "axis": {"orient": "top", "title": null, "labels": false, "values": [0,20,40,60,80,100,120,140,160,180,200,220,240,260,280,300,320,340,360,380,400,420,440,460,480,500], "tickSize": {"condition": {"test": "datum.value % 100 == 0", "value": -6}, "value": -3}}},
           "y": {"field": "v", "type": "quantitative", "axis": {"orient": "right", "title": null, "labels": false, "values": [0,0.05,0.1,0.15,0.2,0.25,0.3,0.35,0.4,0.45,0.5,0.55,0.6,0.65,0.7,0.75,0.8,0.85,0.9,0.95,1,1.05,1.1], "tickSize": {"condition": {"test": "abs(datum.value*5 - round(datum.value*5)) < 0.01", "value": -6}, "value": -3}}}
         }},
        {"transform": [{"filter": "datum.s == 'sb'"}],
         "mark": {"type": "line", "strokeWidth": 4, "color": "#7e7c16"},
         "encoding": {
           "x": {"field": "t", "type": "quantitative", "axis": null},
           "y": {"field": "v", "type": "quantitative", "axis": null}
         }}
      ]
    },
    {
      "title": "15", "width": 313, "height": 194,
      "transform": [{"filter": "datum.p == 15"}],
      "resolve": {"axis": {"x": "independent", "y": "independent"}},
      "layer": [
        {"transform": [{"filter": "datum.s == 'a' || datum.s == 'b'"}],
         "mark": {"type": "line", "strokeWidth": 2.6, "interpolate": "monotone"},
         "encoding": {
           "x": {"field": "t", "type": "quantitative", "scale": {"domain": [-8, 512], "nice": false, "zero": false},
                 "axis": {"orient": "bottom", "title": null, "values": [0,20,40,60,80,100,120,140,160,180,200,220,240,260,280,300,320,340,360,380,400,420,440,460,480,500], "labelExpr": "datum.value % 100 == 0 ? datum.label : ''", "tickSize": {"condition": {"test": "datum.value % 100 == 0", "value": -6}, "value": -3}}},
           "y": {"field": "v", "type": "quantitative", "scale": {"domain": [0, 1.1], "nice": false},
                 "axis": {"orient": "left", "title": null, "values": [0,0.05,0.1,0.15,0.2,0.25,0.3,0.35,0.4,0.45,0.5,0.55,0.6,0.65,0.7,0.75,0.8,0.85,0.9,0.95,1,1.05,1.1], "labelExpr": "abs(datum.value*5 - round(datum.value*5)) < 0.01 ? slice(format(datum.value, '.1f'), -2) : ''", "tickSize": {"condition": {"test": "abs(datum.value*5 - round(datum.value*5)) < 0.01", "value": -6}, "value": -3}}},
           "color": {"field": "s", "type": "nominal", "scale": {"domain": ["a", "b"], "range": ["#5e81b5", "#e19c24"]}, "legend": {"orient": "none", "legendX": 350, "legendY": 64}}
         }},
        {"transform": [{"filter": "datum.s == 'sa'"}],
         "mark": {"type": "line", "strokeWidth": 4, "color": "#0f7d12"},
         "encoding": {
           "x": {"field": "t", "type": "quantitative", "axis": {"orient": "top", "title": null, "labels": false, "values": [0,20,40,60,80,100,120,140,160,180,200,220,240,260,280,300,320,340,360,380,400,420,440,460,480,500], "tickSize": {"condition": {"test": "datum.value % 100 == 0", "value": -6}, "value": -3}}},
           "y": {"field": "v", "type": "quantitative", "axis": {"orient": "right", "title": null, "labels": false, "values": [0,0.05,0.1,0.15,0.2,0.25,0.3,0.35,0.4,0.45,0.5,0.55,0.6,0.65,0.7,0.75,0.8,0.85,0.9,0.95,1,1.05,1.1], "tickSize": {"condition": {"test": "abs(datum.value*5 - round(datum.value*5)) < 0.01", "value": -6}, "value": -3}}}
         }},
        {"transform": [{"filter": "datum.s == 'sb'"}],
         "mark": {"type": "line", "strokeWidth": 4, "color": "#7e7c16"},
         "encoding": {
           "x": {"field": "t", "type": "quantitative", "axis": null},
           "y": {"field": "v", "type": "quantitative", "axis": null}
         }}
      ]
    },
    {
      "title": "17", "width": 313, "height": 194,
      "transform": [{"filter": "datum.p == 17"}],
      "resolve": {"axis": {"x": "independent", "y": "independent"}},
      "layer": [
        {"transform": [{"filter": "datum.s == 'a' || datum.s == 'b'"}],
         "mark": {"type": "line", "strokeWidth": 2.6, "interpolate": "monotone"},
         "encoding": {
           "x": {"field": "t", "type": "quantitative", "scale": {"domain": [-8, 512], "nice": false, "zero": false},
                 "axis": {"orient": "bottom", "title": null, "values": [0,20,40,60,80,100,120,140,160,180,200,220,240,260,280,300,320,340,360,380,400,420,440,460,480,500], "labelExpr": "datum.value % 100 == 0 ? datum.label : ''", "tickSize": {"condition": {"test": "datum.value % 100 == 0", "value": -6}, "value": -3}}},
           "y": {"field": "v", "type": "quantitative", "scale": {"domain": [0, 1.1], "nice": false},
                 "axis": {"orient": "left", "title": null, "values": [0,0.05,0.1,0.15,0.2,0.25,0.3,0.35,0.4,0.45,0.5,0.55,0.6,0.65,0.7,0.75,0.8,0.85,0.9,0.95,1,1.05,1.1], "labelExpr": "abs(datum.value*5 - round(datum.value*5)) < 0.01 ? slice(format(datum.value, '.1f'), -2) : ''", "tickSize": {"condition": {"test": "abs(datum.value*5 - round(datum.value*5)) < 0.01", "value": -6}, "value": -3}}},
           "color": {"field": "s", "type": "nominal", "scale": {"domain": ["a", "b"], "range": ["#5e81b5", "#e19c24"]}, "legend": null}
         }},
        {"transform": [{"filter": "datum.s == 'sa'"}],
         "mark": {"type": "line", "strokeWidth": 4, "color": "#0f7d12"},
         "encoding": {
           "x": {"field": "t", "type": "quantitative", "axis": {"orient": "top", "title": null, "labels": false, "values": [0,20,40,60,80,100,120,140,160,180,200,220,240,260,280,300,320,340,360,380,400,420,440,460,480,500], "tickSize": {"condition": {"test": "datum.value % 100 == 0", "value": -6}, "value": -3}}},
           "y": {"field": "v", "type": "quantitative", "axis": {"orient": "right", "title": null, "labels": false, "values": [0,0.05,0.1,0.15,0.2,0.25,0.3,0.35,0.4,0.45,0.5,0.55,0.6,0.65,0.7,0.75,0.8,0.85,0.9,0.95,1,1.05,1.1], "tickSize": {"condition": {"test": "abs(datum.value*5 - round(datum.value*5)) < 0.01", "value": -6}, "value": -3}}}
         }},
        {"transform": [{"filter": "datum.s == 'sb'"}],
         "mark": {"type": "line", "strokeWidth": 4, "color": "#7e7c16"},
         "encoding": {
           "x": {"field": "t", "type": "quantitative", "axis": null},
           "y": {"field": "v", "type": "quantitative", "axis": null}
         }}
      ]
    }
  ],
  "config": {
    "view": {"stroke": "#6b6b6b", "strokeWidth": 1},
    "font": "Liberation Sans",
    "title": {"fontSize": 24, "font": "Liberation Sans", "fontWeight": "normal", "color": "#555555", "anchor": "middle", "frame": "group", "offset": 5},
    "axis": {"domain": false, "grid": false, "tickColor": "#6b6b6b", "tickWidth": 1, "labelFont": "Liberation Sans", "labelFontSize": 18, "labelColor": "#555555", "labelPadding": 14, "labelOverlap": false, "labelFlush": false, "labelBound": false},
    "legend": {"title": null, "symbolType": "stroke", "symbolSize": 1369, "symbolStrokeWidth": 3, "labelFont": "Liberation Sans", "labelFontSize": 17, "labelColor": "#000000", "labelOffset": 14, "rowPadding": 12}
  }
}
